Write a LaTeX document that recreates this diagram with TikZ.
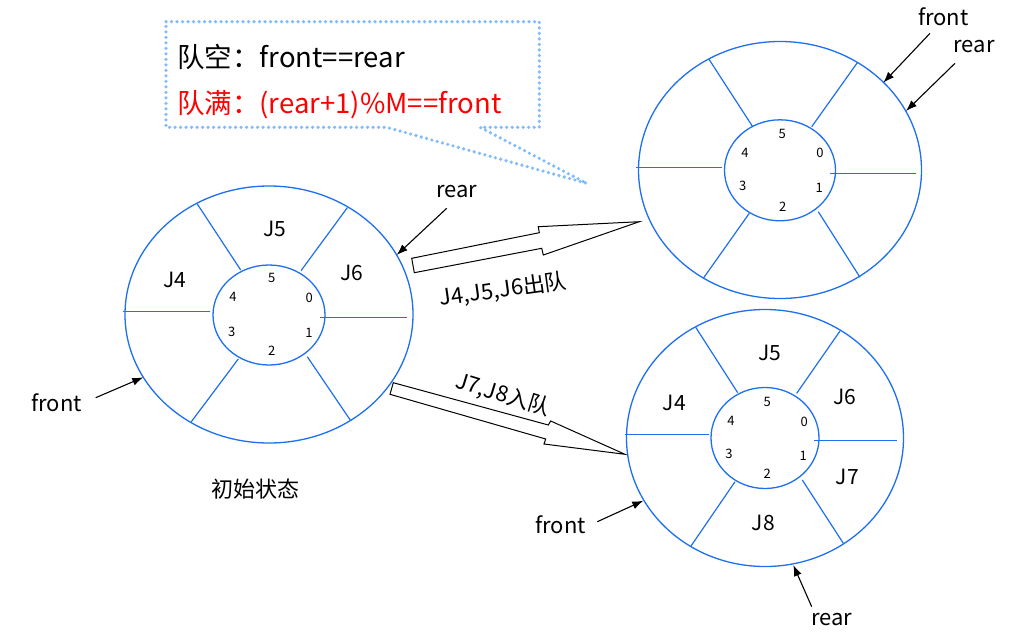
\documentclass[tikz,border=0pt]{standalone}
\usepackage{fontspec}
\setmainfont{Noto Sans CJK SC}
\usetikzlibrary{arrows.meta,shapes.geometric}
\definecolor{ringblue}{RGB}{30,112,240}
\definecolor{callblue}{RGB}{130,188,250}
\definecolor{fullred}{RGB}{255,0,0}
\begin{document}
\begin{tikzpicture}[x=1pt,y=-1pt,
 ring/.style={draw=ringblue, line width=1.3pt, ellipse, inner sep=0pt, outer sep=0pt},
 spoke/.style={draw=ringblue, line width=1.2pt},
 hline/.style={draw=ringblue, line width=1.1pt},
 ptr/.style={draw=black, line width=1.1pt, -{Latex[length=11pt,width=8pt]}},
 lbl/.style={font=\fontsize{22}{26}\selectfont, inner sep=0pt},
 jlbl/.style={font=\fontsize{21}{25}\selectfont, inner sep=0pt},
 idx/.style={font=\fontsize{13}{15}\selectfont, inner sep=0pt},
 calltext/.style={font=\fontsize{27.5}{32}\selectfont, inner sep=0pt, anchor=west},
 bigarrow/.style={draw=black, line width=1pt, fill=white, line join=miter},
 callout/.style={draw=callblue, line width=3.6pt, line cap=round, dash pattern=on 0pt off 5.5pt}
]
\fill[white] (0,0) rectangle (1011,632);
\useasboundingbox (0,0) rectangle (1011,632);

% ---------- callout ----------
\draw[callout] (166,21.7) -- (539.3,21.7) -- (539.3,127.3) -- (480,127.3) -- (586.7,183.3) -- (386.7,127.3) -- (166,127.3) -- cycle;
\node[calltext] (empty) at (177,56.7) {队空：front==rear};
\node[calltext, text=fullred] (full) at (177,105) {队满：(rear+1)\%M==front};

% ---------- left ring (initial) ----------
\node[ring, minimum width=288pt, minimum height=257pt] (Lo) at (269,314.5) {};
\node[ring, minimum width=112pt, minimum height=100pt] (Li) at (269,315) {};
\draw[spoke] (197.3,204) -- (240.7,270);
\draw[spoke] (347.3,207.7) -- (301,270.7);
\draw[spoke] (191.3,421.7) -- (238.3,359);
\draw[spoke] (350.7,420.7) -- (307.3,356.7);
\draw[hline] (123,311.5) -- (210,311.5);
\draw[hline] (320,317.5) -- (406.7,317.5);
\node[jlbl] (LJ5) at (275,229) {J5};
\node[jlbl] (LJ4) at (175,280) {J4};
\node[jlbl] (LJ6) at (352,273) {J6};
\node[idx] (L5) at (271.7,278.3) {5};
\node[idx] (L4) at (233,296.7) {4};
\node[idx] (L0) at (309.3,297.7) {0};
\node[idx] (L3) at (231.7,331.7) {3};
\node[idx] (L1) at (309,332.7) {1};
\node[idx] (L2) at (271.7,351) {2};
\node[lbl] (LfrontT) at (56.7,402.7) {front};
\coordinate (LfS) at (95.7,397.7);
\coordinate (LfE) at (143.3,377.3);
\draw[ptr] (LfS) -- (LfE);
\node[lbl] (LrearT) at (456.7,191.7) {rear};
\coordinate (LrS) at (446.7,208.3);
\coordinate (LrE) at (396.7,255);
\draw[ptr] (LrS) -- (LrE);
\node[lbl] (init) at (255,489.3) {初始状态};

% ---------- upper right ring ----------
\node[ring, minimum width=283pt, minimum height=257pt] (Uo) at (780,170) {};
\node[ring, minimum width=111pt, minimum height=101pt] (Ui) at (780,170.3) {};
\draw[spoke] (709,59.3) -- (752.7,126.7);
\draw[spoke] (857.3,62.7) -- (811.7,126.7);
\draw[spoke] (703.3,278.3) -- (749.3,213.3);
\draw[spoke] (860,277.3) -- (818.3,211.7);
\draw[hline] (636,167.5) -- (721.7,167.5);
\draw[hline] (830,173.5) -- (916,173.5);
\node[idx] (U5) at (782.3,134.3) {5};
\node[idx] (U4) at (745,152.7) {4};
\node[idx] (U0) at (820,153.3) {0};
\node[idx] (U3) at (742.7,186) {3};
\node[idx] (U1) at (819.3,188.3) {1};
\node[idx] (U2) at (782.7,206.7) {2};
\node[lbl] (UfrontT) at (943.3,16.7) {front};
\coordinate (UfS) at (930,33.3);
\coordinate (UfE) at (883.3,82.7);
\draw[ptr] (UfS) -- (UfE);
\node[lbl] (UrearT) at (974,46.7) {rear};
\coordinate (UrS) at (955,63.3);
\coordinate (UrE) at (906,111);
\draw[ptr] (UrS) -- (UrE);

% ---------- lower right ring ----------
\node[ring, minimum width=277pt, minimum height=257pt] (Bo) at (765,438) {};
\node[ring, minimum width=108pt, minimum height=101pt] (Bi) at (765,438) {};
\draw[spoke] (695.7,327.3) -- (737.7,392.7);
\draw[spoke] (840,331) -- (796.7,393.3);
\draw[spoke] (691,546) -- (735,481.7);
\draw[spoke] (843.3,543.3) -- (802.3,480);
\draw[hline] (625,434.5) -- (709.3,434.5);
\draw[hline] (814,440.5) -- (897.3,440.5);
\node[jlbl] (BJ5) at (770,353.3) {J5};
\node[jlbl] (BJ4) at (674.3,403.3) {J4};
\node[jlbl] (BJ6) at (845,396.7) {J6};
\node[jlbl] (BJ7) at (847.3,476.7) {J7};
\node[jlbl] (BJ8) at (763.3,522.7) {J8};
\node[idx] (B5) at (767.3,401.7) {5};
\node[idx] (B4) at (731,420.7) {4};
\node[idx] (B0) at (804.3,421.7) {0};
\node[idx] (B3) at (729,454.3) {3};
\node[idx] (B1) at (803.3,456) {1};
\node[idx] (B2) at (767.3,474) {2};
\node[lbl] (BfrontT) at (560.7,525) {front};
\coordinate (BfS) at (597.3,521.7);
\coordinate (BfE) at (643.3,500.7);
\draw[ptr] (BfS) -- (BfE);
\node[lbl] (BrearT) at (831.7,620) {rear};
\coordinate (BrS) at (811.7,606.7);
\coordinate (BrE) at (793.3,565);
\draw[ptr] (BrS) -- (BrE);

% ---------- block arrows ----------
\draw[bigarrow] (411.7,258.3) -- (539.3,232.7) -- (538.3,226.7) -- (639.3,221.7) -- (543.3,255) -- (541.7,248.3) -- (414.3,272.7) -- cycle;
\node[lbl, rotate=8] (deq) at (503.3,290) {J4,J5,J6出队};
\draw[bigarrow] (393.3,382.7) -- (548.3,425) -- (550.7,421) -- (625,454.3) -- (544,444) -- (545.7,439) -- (390,394.3) -- cycle;
\node[lbl, rotate=-17] (enq) at (503,395) {J7,J8入队};
\end{tikzpicture}
\end{document}
